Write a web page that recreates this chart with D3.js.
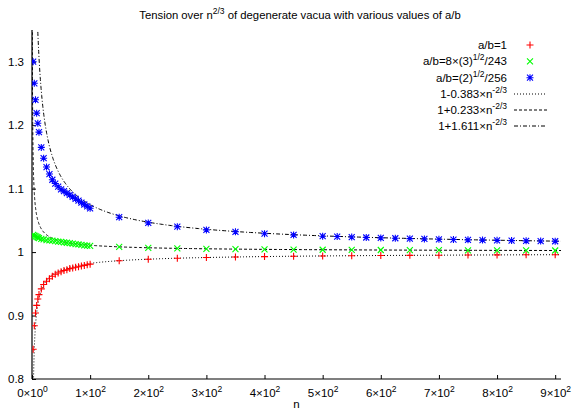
<!DOCTYPE html>
<html>
<head>
<meta charset="utf-8">
<script src="https://cdn.jsdelivr.net/npm/d3@7"></script>
<style>
  body{margin:0;background:#fff;}
  svg{display:block;font-family:"Liberation Sans",Arial,sans-serif;}
  .tick text{font-size:11.5px;fill:#000;}
</style>
</head>
<body>
<svg width="573" height="413"></svg>
<script>
// data
const nNear=[2,4,6,8,10,12,16,20,25,30,35,40,45,50,55,60,65,70,75,80,85,90,95,100];
const nFar=[150,200,250,300,350,400,450,500,550,600,650,700,750,800,850,900];
const nFarBlue=[150,200,250,300,350,400,450,500,525,550,575,600,625,650,675,700,725,750,775,800,825,850,875,900];

const redNear=[0.847,0.884,0.904,0.916,0.926,0.933,0.942,0.949,0.954,0.958,0.962,0.965,0.967,0.969,0.971,0.972,0.974,0.975,0.976,0.977,0.978,0.979,0.980,0.981];
const redFar=[0.9864,0.9888,0.9903,0.9915,0.9923,0.9929,0.9935,0.9939,0.9943,0.9946,0.9949,0.9951,0.9954,0.9956,0.9957,0.9959];
const greenNear=[1.027,1.026,1.025,1.024,1.023,1.022,1.021,1.020,1.019,1.0185,1.018,1.0172,1.0165,1.016,1.0153,1.0147,1.014,1.0133,1.0126,1.012,1.0113,1.0107,1.0102,1.0098];
const greenFar=[1.0083,1.0068,1.0059,1.0052,1.0047,1.0043,1.0040,1.0037,1.0035,1.0033,1.0031,1.0030,1.0028,1.0027,1.0026,1.0025];
const blueNear=[1.300,1.266,1.240,1.219,1.203,1.189,1.165,1.148,1.134,1.123,1.114,1.108,1.103,1.099,1.096,1.093,1.090,1.087,1.084,1.081,1.078,1.075,1.072,1.069];
const blueFar=[1.055,1.046,1.040,1.035,1.032,1.029,1.027,1.025,1.0245,1.0237,1.023,1.0224,1.0218,1.0212,1.0207,1.0202,1.0198,1.0193,1.0189,1.0185,1.0181,1.0177,1.0174,1.0171];

// fit coefficients of 1 + c*n^(-2/3), as in the legend
const fitCoef=[-0.383,0.233,1.611];
const xTicks=[0,100,200,300,400,500,600,700,800,900];
const yTicks=[0.8,0.9,1,1.1,1.2,1.3];

const svg=d3.select('svg');
const width=+svg.attr('width');
const height=+svg.attr('height');
const margin={top:30,right:12,bottom:34,left:32};

const xScale=d3.scaleLinear().domain([0,910]).range([margin.left,width-margin.right]);
const yScale=d3.scaleLinear().domain([0.8,1.35]).range([height-margin.bottom,margin.top]);

const sup=(sel,base,exp)=>{
  sel.text(null);
  sel.append('tspan').text(base);
  sel.append('tspan').attr('dy',-5).attr('font-size','8.5px').text(exp);
};

// title
const title=svg.append('text')
  .attr('x',300).attr('y',19)
  .attr('text-anchor','middle')
  .attr('font-size','11.3px');
title.append('tspan').text('Tension over n');
title.append('tspan').attr('dy',-5).attr('font-size','8.5px').text('2/3');
title.append('tspan').attr('dy',5).text(' of degenerate vacua with various values of a/b');

// axes
const xAxis=d3.axisBottom(xScale).tickValues(xTicks).tickSize(-4).tickPadding(8);
const gx=svg.append('g')
  .attr('transform',`translate(0,${height-margin.bottom})`)
  .call(xAxis);
gx.select('.domain').attr('d',`M${xScale(0)},0H${xScale(910)}`);
gx.selectAll('.tick text').attr('dy','0.9em').each(function(d){
  const t=d3.select(this);
  sup(t,(d/100)+'×10',d===0?'0':'2');
});

const yAxis=d3.axisLeft(yScale).tickValues(yTicks).tickSize(-4).tickPadding(8)
  .tickFormat(d=>d===1?'1':d3.format('.1f')(d));
const gy=svg.append('g')
  .attr('transform',`translate(${margin.left},0)`)
  .call(yAxis);
gy.select('.domain').attr('d',`M0,${yScale(0.8)}V${yScale(1.35)}`);
svg.selectAll('.domain').attr('stroke','#000').attr('stroke-width',1.2);

svg.append('text')
  .attr('x',(xScale(0)+xScale(910))/2).attr('y',408)
  .attr('text-anchor','middle').attr('font-size','11.5px').text('n');

// clip
svg.append('clipPath').attr('id','plot')
  .append('rect')
  .attr('x',margin.left).attr('y',margin.top)
  .attr('width',width-margin.left-margin.right)
  .attr('height',height-margin.top-margin.bottom);

// fit curves
const dashes=['1,2','3,2','4,2,1,2'];
const nFit=d3.range(500).map(i=>0.3*Math.pow(910/0.3,i/499));
const line=d3.line().x(d=>xScale(d[0])).y(d=>yScale(d[1]));
svg.append('g').attr('clip-path','url(#plot)')
  .selectAll('path')
  .data(fitCoef)
  .join('path')
    .attr('d',c=>line(nFit.map(n=>[n,1+c*Math.pow(n,-2/3)])))
    .attr('fill','none')
    .attr('stroke','#000')
    .attr('stroke-width',1)
    .attr('stroke-dasharray',(c,i)=>dashes[i]);

// point markers
const plus='M-3.5,0H3.5M0,-3.5V3.5';
const cross='M-3,-3L3,3M-3,3L3,-3';
const star=plus+cross;
const series=[
  {n:nNear.concat(nFar),v:redNear.concat(redFar),color:'#ff0000',sym:plus},
  {n:nNear.concat(nFar),v:greenNear.concat(greenFar),color:'#00ff00',sym:cross},
  {n:nNear.concat(nFarBlue),v:blueNear.concat(blueFar),color:'#0000ff',sym:star}
];
series.forEach(s=>{
  svg.append('g').attr('clip-path','url(#plot)')
    .selectAll('path')
    .data(s.n.map((n,i)=>[n,s.v[i]]))
    .join('path')
      .attr('transform',d=>`translate(${xScale(d[0])},${yScale(d[1])})`)
      .attr('d',s.sym)
      .attr('fill','none')
      .attr('stroke',s.color)
      .attr('stroke-width',1.1);
});

// legend
const legY=[45,61.3,77.7,94,110,126];
const legend=svg.append('g').attr('font-size','11.5px');
const lab=(i)=>legend.append('text').attr('x',507).attr('y',legY[i]+4).attr('text-anchor','end');
lab(0).text('a/b=1');
let t=lab(1);
t.append('tspan').text('a/b=8×(3)');
t.append('tspan').attr('dy',-5).attr('font-size','8.5px').text('1/2');
t.append('tspan').attr('dy',5).text('/243');
t=lab(2);
t.append('tspan').text('a/b=(2)');
t.append('tspan').attr('dy',-5).attr('font-size','8.5px').text('1/2');
t.append('tspan').attr('dy',5).text('/256');
['1-0.383×n','1+0.233×n','1+1.611×n'].forEach((s,i)=>{
  const tt=lab(3+i);
  tt.append('tspan').text(s);
  tt.append('tspan').attr('dy',-5).attr('font-size','8.5px').text('-2/3');
});
series.forEach((s,i)=>{
  legend.append('path')
    .attr('transform',`translate(530,${legY[i]})`)
    .attr('d',s.sym).attr('fill','none').attr('stroke',s.color).attr('stroke-width',1.1);
});
dashes.forEach((d,i)=>{
  legend.append('line')
    .attr('x1',514).attr('x2',547)
    .attr('y1',legY[3+i]).attr('y2',legY[3+i])
    .attr('stroke','#000').attr('stroke-dasharray',d);
});
</script>
</body>
</html>
